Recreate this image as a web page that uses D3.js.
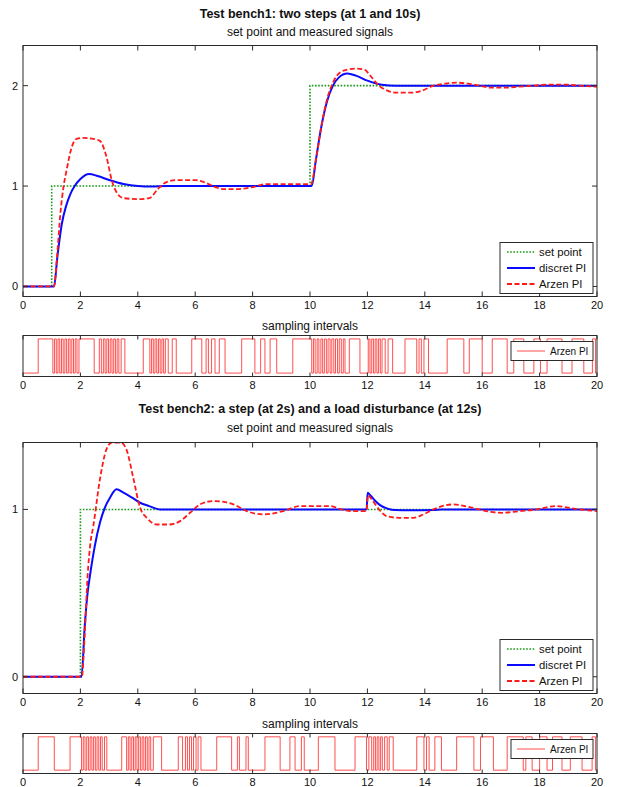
<!DOCTYPE html>
<html>
<head>
<meta charset="utf-8">
<script src="https://cdn.jsdelivr.net/npm/d3@7"></script>
<style>
  html, body { margin: 0; padding: 0; background: #fff; }
  svg { display: block; font-family: "Liberation Sans", Arial, sans-serif; }
</style>
</head>
<body>
<svg id="chart" width="623" height="787"></svg>
<script>
/* ── Data ──────────────────────────────────────────────────────── */
const xTicks = [0, 2, 4, 6, 8, 10, 12, 14, 16, 18, 20];
const legendNames = ["set point", "discret PI", "Arzen PI"];

// bench 1: two steps
const b1Set = [[0, 0], [1, 1], [10, 2], [20, 2]];
const b1Discret = [[0, 0], [1.08, 0], [1.2, 0.3], [1.35, 0.62], [1.5, 0.8], [1.65, 0.92], [1.8, 1.0],
  [2.0, 1.07], [2.3, 1.12], [2.6, 1.1], [3.0, 1.06], [3.5, 1.02], [4.0, 1.0], [4.5, 0.995], [5.0, 1.0],
  [10.06, 1.0], [10.2, 1.25], [10.4, 1.6], [10.6, 1.85], [10.8, 2.0], [11.0, 2.08], [11.3, 2.12],
  [11.6, 2.1], [12.0, 2.05], [12.5, 2.01], [13.0, 2.0], [20, 2.0]];
const b1Arzen = [[0, 0], [1.08, 0], [1.2, 0.35], [1.3, 0.72], [1.41, 0.99], [1.52, 1.16], [1.7, 1.39],
  [1.87, 1.47], [2.1, 1.48], [2.45, 1.47], [2.68, 1.45], [2.9, 1.3], [3.1, 1.05], [3.3, 0.92], [3.5, 0.88],
  [4.0, 0.87], [4.4, 0.88], [4.7, 0.97], [5.0, 1.04], [5.4, 1.06], [6.0, 1.06], [6.3, 1.04], [6.7, 0.99],
  [7.0, 0.97], [7.5, 0.97], [8.0, 0.99], [8.5, 1.02], [9.0, 1.02], [10.04, 1.02], [10.2, 1.25], [10.4, 1.6],
  [10.6, 1.87], [10.8, 2.03], [11.0, 2.12], [11.3, 2.16], [11.6, 2.17], [11.9, 2.16], [12.1, 2.1],
  [12.4, 2.0], [12.7, 1.95], [13.0, 1.93], [13.5, 1.93], [13.9, 1.95], [14.3, 2.0], [14.7, 2.02],
  [15.1, 2.03], [15.5, 2.02], [15.9, 2.0], [16.3, 1.98], [16.8, 1.98], [17.3, 1.99], [17.8, 2.0],
  [18.3, 2.01], [18.9, 2.01], [19.4, 2.0], [20, 1.99]];
const b1Samples = [0.53, 1.04,
  1.10, 1.16, 1.22, 1.28, 1.34, 1.40, 1.46, 1.52, 1.58, 1.64, 1.70, 1.76, 1.82, 1.88, 1.95,
  2.48, 2.66,
  2.73, 2.80, 2.86, 2.92, 2.98, 3.04, 3.10, 3.16, 3.22, 3.28, 3.34, 3.42,
  3.55, 4.19, 4.42,
  4.48, 4.54, 4.60, 4.66, 4.72, 4.78, 4.84, 4.90, 4.96,
  5.06, 5.20, 5.34, 5.88, 6.23, 6.38, 6.46, 6.57, 6.69, 6.84, 7.04, 7.62, 8.08, 8.28, 8.43, 8.61,
  8.84, 9.40, 10.06,
  10.12, 10.18, 10.25, 10.31, 10.38, 10.44, 10.50, 10.57, 10.63, 10.70, 10.76, 10.83, 10.89, 10.96,
  11.02, 11.09, 11.16,
  11.22, 11.37, 11.74, 12.03,
  12.09, 12.15, 12.21, 12.27, 12.33, 12.39, 12.45, 12.51,
  12.62, 12.72, 12.88, 13.31, 13.72, 13.80, 13.88, 13.97, 14.13, 14.78, 15.36, 15.55, 16.0, 16.35,
  16.87, 17.10, 17.45, 17.80, 18.03, 18.26, 18.78, 19.13, 19.54, 19.84, 19.95];

// bench 2: step at 2 s, load disturbance at 12 s
const b2Set = [[0, 0], [2, 1], [20, 1]];
const b2Discret = [[0, 0], [2.04, 0], [2.15, 0.3], [2.25, 0.5], [2.33, 0.6], [2.5, 0.78], [2.68, 0.92],
  [2.85, 1.01], [3.03, 1.07], [3.26, 1.12], [3.5, 1.1], [3.8, 1.07], [4.08, 1.04], [4.4, 1.02],
  [4.77, 1.0], [11.97, 1.0], [12.01, 1.1], [12.1, 1.085], [12.25, 1.055], [12.44, 1.026], [12.7, 1.005],
  [12.96, 0.996], [13.5, 0.995], [14.3, 0.997], [14.6, 1.0], [20, 1.0]];
const b2Arzen = [[0, 0], [2.05, 0], [2.15, 0.25], [2.25, 0.6], [2.35, 0.8], [2.45, 0.9], [2.68, 1.18],
  [2.91, 1.36], [3.1, 1.4], [3.4, 1.4], [3.6, 1.36], [3.84, 1.19], [4.08, 1.01], [4.31, 0.95], [4.66, 0.91],
  [5.1, 0.91], [5.47, 0.93], [5.82, 0.98], [6.17, 1.03], [6.63, 1.05], [7.0, 1.045], [7.33, 1.03],
  [7.8, 0.99], [8.37, 0.97], [9.07, 0.99], [9.65, 1.02], [10.1, 1.02], [10.7, 1.02], [11.1, 1.0],
  [11.5, 0.99], [11.97, 0.99], [12.02, 1.085], [12.15, 1.06], [12.36, 1.01], [12.67, 0.96], [13.1, 0.95],
  [13.6, 0.95], [13.95, 0.97], [14.3, 1.0], [14.6, 1.02], [15.0, 1.03], [15.4, 1.02], [15.9, 1.0],
  [16.3, 0.985], [16.7, 0.98], [17.3, 0.99], [17.9, 1.0], [18.3, 1.015], [18.6, 1.02], [19.0, 1.01],
  [19.4, 1.0], [20, 0.99]];
const b2Samples = [0.53, 1.09, 1.64, 2.04,
  2.10, 2.16, 2.22, 2.28, 2.34, 2.40, 2.46, 2.52, 2.58, 2.64, 2.70, 2.76, 2.84, 2.92,
  3.44, 3.61,
  3.67, 3.73, 3.79, 3.85, 3.91, 3.97, 4.03, 4.09, 4.15, 4.21, 4.27, 4.33, 4.39, 4.45, 4.54,
  4.83, 5.41, 5.56, 5.66, 5.73, 5.80, 5.87, 5.94, 6.03, 6.10, 6.20, 6.75, 7.27, 7.47, 7.54, 7.77, 7.85,
  8.43, 8.96, 9.30, 9.48, 9.70, 9.80, 10.29, 10.87, 11.57, 11.97,
  12.05, 12.15, 12.22, 12.28, 12.34, 12.40, 12.46, 12.52, 12.60, 12.69, 12.76, 12.90,
  13.72, 13.97, 14.06, 14.15, 14.35, 14.58, 15.11, 15.71, 15.94, 16.39, 16.87, 17.43, 17.52, 17.74,
  18.0, 18.26, 18.45, 18.78, 19.07, 19.48, 19.83, 19.95];

/* ── Layout ────────────────────────────────────────────────────── */
const svg = d3.select("#chart");
const X0 = 23, X1 = 597;
const AXIS = "#2b2b2b";
const styles = [
  { color: "#1a9a1a", width: 1.6, dash: "1.6,1.6" },   // set point
  { color: "#0a0aff", width: 2, dash: null },          // discret PI
  { color: "#ff1a1a", width: 1.8, dash: "5,2.5" }      // Arzen PI
];

function text(x, y, str, opts) {
  return svg.append("text")
    .attr("x", x).attr("y", y)
    .attr("text-anchor", (opts && opts.anchor) || "middle")
    .attr("font-size", (opts && opts.size) || 11)
    .attr("font-weight", (opts && opts.bold) ? "bold" : "normal")
    .attr("fill", "#111")
    .text(str);
}

function frame(g, x, y, tickLen, showY, yTicks) {
  const [top, bot] = y.range().slice().sort((a, b) => a - b);
  g.append("rect").attr("x", X0).attr("y", top).attr("width", X1 - X0).attr("height", bot - top)
    .attr("fill", "none").attr("stroke", AXIS).attr("stroke-width", 1);
  // x ticks, top and bottom, pointing in
  xTicks.forEach(t => {
    const px = x(t);
    g.append("line").attr("x1", px).attr("x2", px).attr("y1", bot).attr("y2", bot - tickLen).attr("stroke", AXIS);
    g.append("line").attr("x1", px).attr("x2", px).attr("y1", top).attr("y2", top + tickLen).attr("stroke", AXIS);
    g.append("text").attr("x", px).attr("y", bot + 12).attr("text-anchor", "middle")
      .attr("font-size", 11).attr("fill", "#111").text(t);
  });
  if (showY) {
    yTicks.forEach(v => {
      const py = y(v);
      g.append("line").attr("x1", X0).attr("x2", X0 + tickLen).attr("y1", py).attr("y2", py).attr("stroke", AXIS);
      g.append("line").attr("x1", X1).attr("x2", X1 - tickLen).attr("y1", py).attr("y2", py).attr("stroke", AXIS);
      g.append("text").attr("x", X0 - 5).attr("y", py + 4).attr("text-anchor", "end")
        .attr("font-size", 11).attr("fill", "#111").text(v);
    });
  }
}

function drawMain(cfg) {
  const x = d3.scaleLinear().domain([0, 20]).range([X0, X1]);
  const y = d3.scaleLinear().domain(cfg.yDomain).range([cfg.bottom, cfg.top]);
  const g = svg.append("g");
  const clipId = "clip" + cfg.id;
  svg.append("clipPath").attr("id", clipId).append("rect")
    .attr("x", X0).attr("y", cfg.top).attr("width", X1 - X0).attr("height", cfg.bottom - cfg.top);

  const stepLine = d3.line().x(d => x(d[0])).y(d => y(d[1])).curve(d3.curveStepAfter);
  const smooth = d3.line().x(d => x(d[0])).y(d => y(d[1])).curve(d3.curveMonotoneX);
  const series = [[cfg.set, stepLine], [cfg.discret, smooth], [cfg.arzen, smooth]];

  const lines = g.append("g").attr("clip-path", `url(#${clipId})`);
  series.forEach(([data, gen], i) => {
    lines.append("path").datum(data).attr("d", gen).attr("fill", "none")
      .attr("stroke", styles[i].color).attr("stroke-width", styles[i].width)
      .attr("stroke-dasharray", styles[i].dash);
  });
  frame(g, x, y, 5, true, cfg.yTicks);

  // legend
  const lx = 500, lw = 93, lh = 51, ly = cfg.bottom - lh - 3;
  const lg = g.append("g");
  lg.append("rect").attr("x", lx).attr("y", ly).attr("width", lw).attr("height", lh)
    .attr("fill", "#fff").attr("stroke", AXIS);
  legendNames.forEach((name, i) => {
    const yy = ly + 9.5 + i * 16;
    lg.append("line").attr("x1", lx + 7).attr("x2", lx + 35).attr("y1", yy).attr("y2", yy)
      .attr("stroke", styles[i].color).attr("stroke-width", styles[i].width)
      .attr("stroke-dasharray", styles[i].dash);
    lg.append("text").attr("x", lx + 39).attr("y", yy + 4).attr("font-size", 11.3).attr("fill", "#111").text(name);
  });
}

function drawStrip(cfg) {
  const x = d3.scaleLinear().domain([0, 20]).range([X0, X1]);
  const y = d3.scaleLinear().domain([-0.1, 1.1]).range([cfg.bottom, cfg.top]);
  const g = svg.append("g");

  // toggle signal: state flips at every sample instant
  const pts = [[0, 0]];
  let s = 0;
  cfg.samples.forEach(t => { s = 1 - s; pts.push([t, s]); });
  pts.push([20, s]);

  const line = d3.line().x(d => x(d[0])).y(d => y(d[1])).curve(d3.curveStepAfter);
  g.append("path").datum(pts).attr("d", line).attr("fill", "none")
    .attr("stroke", "#ff3030").attr("stroke-width", 1).attr("stroke-opacity", 0.85);
  frame(g, x, y, 4, false, []);

  const lx = 511, ly = cfg.top + 6, lw = 82, lh = 19;
  g.append("rect").attr("x", lx).attr("y", ly).attr("width", lw).attr("height", lh)
    .attr("fill", "#fff").attr("stroke", AXIS);
  g.append("line").attr("x1", lx + 6).attr("x2", lx + 34).attr("y1", ly + lh / 2).attr("y2", ly + lh / 2)
    .attr("stroke", "#ff3030").attr("stroke-width", 1).attr("stroke-opacity", 0.85);
  g.append("text").attr("x", lx + 39).attr("y", ly + lh / 2 + 3.5).attr("font-size", 10).attr("fill", "#111").text(cfg.name);
}

/* ── Bench 1 ───────────────────────────────────────────────────── */
text(310, 18, "Test bench1: two steps (at 1 and 10s)", { bold: true, size: 12.5 });
text(310, 36, "set point and measured signals", { size: 12 });
drawMain({ id: 1, top: 45.5, bottom: 296.5, yDomain: [-0.1, 2.4], yTicks: [0, 1, 2],
  set: b1Set, discret: b1Discret, arzen: b1Arzen });
text(310, 330, "sampling intervals", { size: 12 });
drawStrip({ top: 335.5, bottom: 376.5, samples: b1Samples, name: "Arzen PI" });

/* ── Bench 2 ───────────────────────────────────────────────────── */
text(310, 413, "Test bench2: a step (at 2s) and a load disturbance (at 12s)", { bold: true, size: 12.5 });
text(310, 432, "set point and measured signals", { size: 12 });
drawMain({ id: 2, top: 442.5, bottom: 693.5, yDomain: [-0.1, 1.4], yTicks: [0, 1],
  set: b2Set, discret: b2Discret, arzen: b2Arzen });
text(310, 727.5, "sampling intervals", { size: 12 });
drawStrip({ top: 733.5, bottom: 773.5, samples: b2Samples, name: "Arzen PI" });
</script>
</body>
</html>
